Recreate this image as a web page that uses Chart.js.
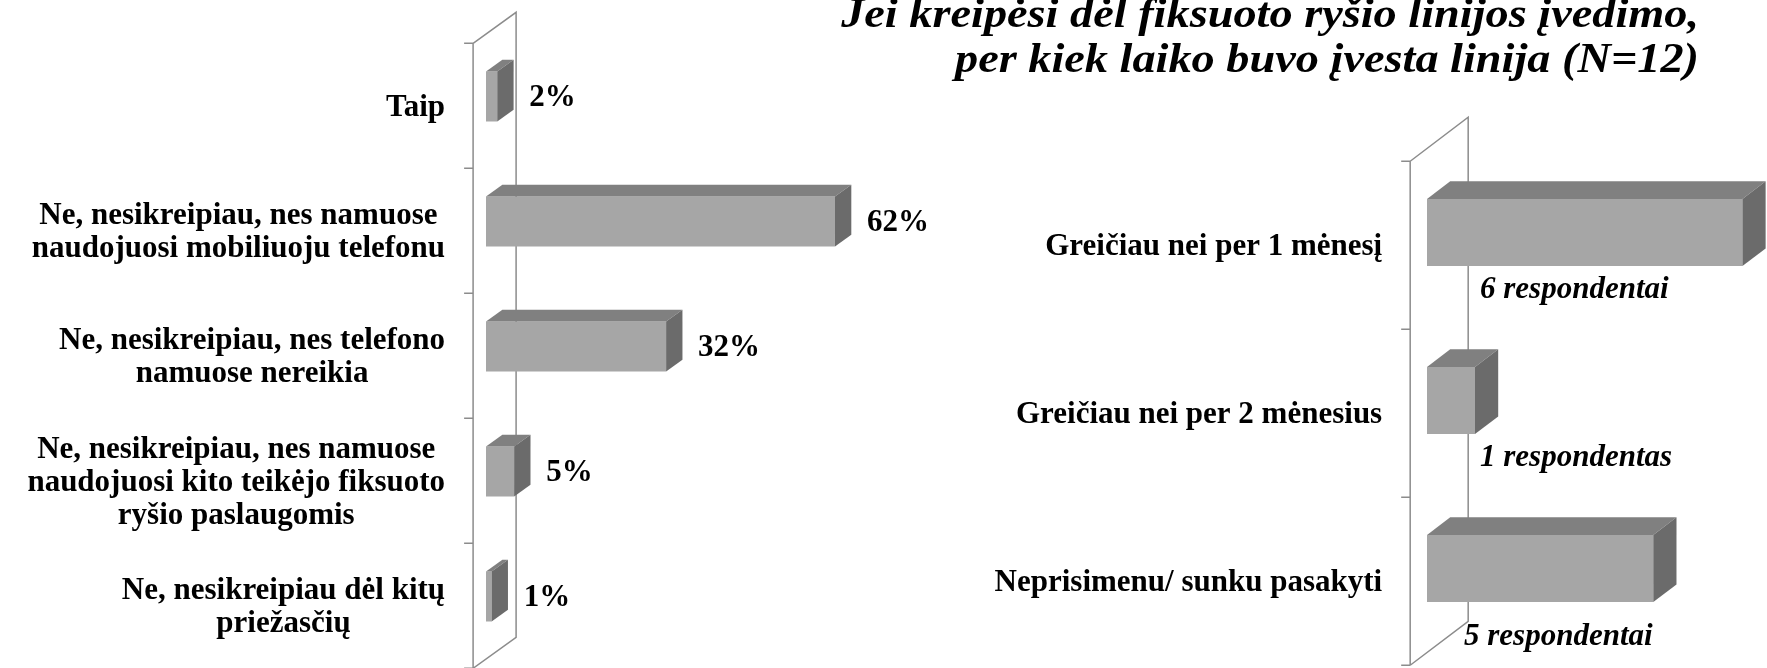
<!DOCTYPE html>
<html>
<head>
<meta charset="utf-8">
<script src="https://cdn.jsdelivr.net/npm/chart.js@4"></script>
<style>
  html, body { margin: 0; padding: 0; background: #fff; }
  #wrap { position: relative; width: 1767px; height: 668px; overflow: hidden; }
  canvas { position: absolute; left: 0; top: 0; }
</style>
</head>
<body>
<div id="wrap">
  <canvas id="left-chart" width="1767" height="668"></canvas>
  <canvas id="right-chart" width="1767" height="668"></canvas>
</div>
<script>
// Left chart data
const leftCategories = [
  ["Taip"],
  ["Ne, nesikreipiau, nes namuose", "naudojuosi mobiliuoju telefonu"],
  ["Ne, nesikreipiau, nes telefono", "namuose nereikia"],
  ["Ne, nesikreipiau, nes namuose", "naudojuosi kito teikėjo fiksuoto", "ryšio paslaugomis"],
  ["Ne, nesikreipiau dėl kitų", "priežasčių"]
];
const leftValues = [2, 62, 32, 5, 1];
const leftLabels = ["2%", "62%", "32%", "5%", "1%"];

// Right chart data
const rightTitle = [
  "Jei kreipėsi dėl fiksuoto ryšio linijos įvedimo,",
  "per kiek laiko buvo įvesta linija (N=12)"
];
const rightCategories = [
  ["Greičiau nei per 1 mėnesį"],
  ["Greičiau nei per 2 mėnesius"],
  ["Neprisimenu/ sunku pasakyti"]
];
const rightValues = [46, 7, 33];
const rightLabels = ["6 respondentai", "1 respondentas", "5 respondentai"];

const FRONT = "#a6a6a6";
const TOP = "#808080";
const SIDE = "#6b6b6b";
const WALL = "#8c8c8c";
const SERIF = '"Liberation Serif", "Times New Roman", serif';

// draws the 3d wall, category labels, bar extrusions and value labels
const box3d = {
  id: "box3d",
  beforeDatasetsDraw(chart, args, o) {
    const { ctx, chartArea: a, scales: { y } } = chart;
    const [dx, dy] = o.depth;
    const fx = a.left - o.front * dx, fy = -o.front * dy;
    const bx = a.left + (1 - o.front) * dx, by = (1 - o.front) * dy;
    const n = chart.data.labels.length;
    const band = (a.bottom - a.top) / n;

    ctx.save();
    ctx.strokeStyle = WALL;
    ctx.lineWidth = 1.5;
    ctx.beginPath();
    ctx.moveTo(fx, a.top + fy);
    ctx.lineTo(fx, a.bottom + fy);
    ctx.moveTo(fx, a.top + fy);
    ctx.lineTo(bx, a.top + by);
    ctx.lineTo(bx, a.bottom + by);
    ctx.lineTo(fx, a.bottom + fy);
    for (let i = 0; i < n; i++) {
      const ty = y.getPixelForValue(i) - band / 2 + fy;
      ctx.moveTo(fx - 9, ty);
      ctx.lineTo(fx, ty);
    }
    ctx.moveTo(fx - 9, a.bottom + fy);
    ctx.lineTo(fx, a.bottom + fy);
    ctx.stroke();

    // category labels: block right aligned, lines centred in the block
    ctx.fillStyle = "#000";
    ctx.font = o.catFont;
    ctx.textAlign = "center";
    ctx.textBaseline = "middle";
    chart.data.labels.forEach((lines, i) => {
      const cy = y.getPixelForValue(i) + fy + 2;
      const w = Math.max(...lines.map(s => ctx.measureText(s).width));
      const cx = fx - o.labelGap - w / 2;
      const top = cy - (lines.length - 1) * o.lineHeight / 2;
      lines.forEach((s, k) => ctx.fillText(s, cx, top + k * o.lineHeight));
    });
    ctx.restore();
  },
  afterDatasetsDraw(chart, args, o) {
    const { ctx, chartArea: a } = chart;
    const ddx = o.depth[0] * o.barDepth, ddy = o.depth[1] * o.barDepth;
    const meta = chart.getDatasetMeta(0);
    ctx.save();
    meta.data.forEach((bar, i) => {
      const { x, y, base, height } = bar.getProps(["x", "y", "base", "height"], true);
      const t = y - height / 2, b = y + height / 2;
      ctx.fillStyle = TOP;
      ctx.beginPath();
      ctx.moveTo(base, t);
      ctx.lineTo(x, t);
      ctx.lineTo(x + ddx, t + ddy);
      ctx.lineTo(base + ddx, t + ddy);
      ctx.closePath();
      ctx.fill();
      ctx.fillStyle = SIDE;
      ctx.beginPath();
      ctx.moveTo(x, t);
      ctx.lineTo(x + ddx, t + ddy);
      ctx.lineTo(x + ddx, b + ddy);
      ctx.lineTo(x, b);
      ctx.closePath();
      ctx.fill();

      ctx.fillStyle = "#000";
      ctx.font = o.valueFont;
      ctx.textAlign = "left";
      const label = o.valueLabels[i];
      if (o.valueMode === "end") {
        ctx.textBaseline = "middle";
        ctx.fillText(label, x + o.valueGap, y + 1);
      } else {
        ctx.textBaseline = "alphabetic";
        const nudge = o.nudge[i] || [0, 0];
        ctx.fillText(label, a.left + o.valueGap + nudge[0], b + o.valueDrop + nudge[1]);
      }
    });
    ctx.restore();
  },
  afterDraw(chart, args, o) {
    if (!o.title) return;
    const ctx = chart.ctx;
    ctx.save();
    ctx.fillStyle = "#000";
    ctx.font = o.titleFont;
    ctx.textAlign = "right";
    ctx.textBaseline = "alphabetic";
    const sx = o.titleWidth / ctx.measureText(o.title[1]).width;
    o.title.forEach((s, k) => {
      ctx.save();
      ctx.translate(o.titleRight, o.titleBase[k]);
      ctx.scale(sx, 1);
      ctx.fillText(s, 0, 0);
      ctx.restore();
    });
    ctx.restore();
  }
};

function barConfig(labels, values, padding, xMax, plugin) {
  return {
    type: "bar",
    data: {
      labels: labels,
      datasets: [{
        data: values,
        backgroundColor: FRONT,
        borderWidth: 0,
        barPercentage: 0.4,
        categoryPercentage: 1
      }]
    },
    options: {
      indexAxis: "y",
      responsive: false,
      animation: false,
      layout: { padding: padding },
      scales: {
        x: { display: false, min: 0, max: xMax },
        y: { display: false }
      },
      plugins: {
        legend: { display: false },
        tooltip: { enabled: false },
        box3d: plugin
      }
    },
    plugins: [box3d]
  };
}

new Chart(document.getElementById("left-chart"), barConfig(
  leftCategories, leftValues,
  { left: 486, right: 887, top: 34, bottom: 9 }, 70,
  {
    depth: [43, -31], front: 0.3, barDepth: 0.38,
    catFont: "bold 31px " + SERIF, lineHeight: 33, labelGap: 28,
    valueFont: "bold 31px " + SERIF, valueMode: "end", valueGap: 32,
    valueLabels: leftLabels
  }
));

new Chart(document.getElementById("right-chart"), barConfig(
  rightCategories, rightValues,
  { left: 1427, right: 4, top: 148.5, bottom: 15.5 }, 49,
  {
    depth: [58, -44], front: 0.29, barDepth: 0.4,
    catFont: "bold 31px " + SERIF, lineHeight: 33, labelGap: 28,
    valueFont: "italic bold 31px " + SERIF, valueMode: "below", valueGap: 53, valueDrop: 32,
    nudge: [[0, 0], [0, 0], [-16, 11]],
    valueLabels: rightLabels,
    title: rightTitle, titleFont: "italic bold 42px " + SERIF,
    titleRight: 1699, titleBase: [27, 72], titleWidth: 744
  }
));
</script>
</body>
</html>
